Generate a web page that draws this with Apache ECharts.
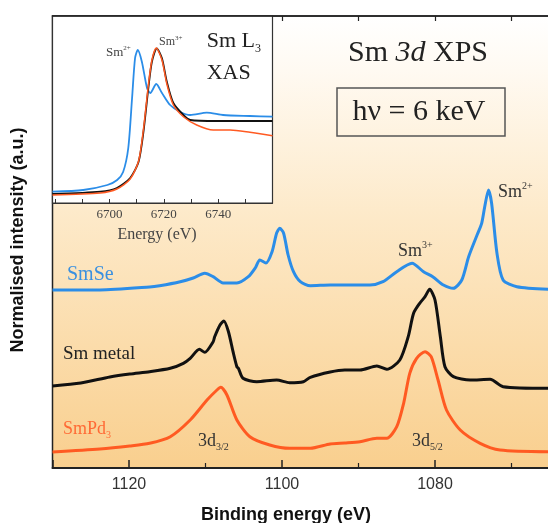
<!DOCTYPE html>
<html><head><meta charset="utf-8">
<script src="https://cdn.jsdelivr.net/npm/echarts@6/dist/echarts.min.js"></script>
<style>html,body{margin:0;padding:0;background:#fff}#c{width:548px;height:523px}</style>
</head><body><div id="c"></div><script>
// Main XPS spectra: [binding energy (eV), normalised intensity (arb.)]
const smseXps = [[1130,178],[1123.8,178],[1117.3,181],[1116.0,182.3],[1113.3,186.3],[1111.6,190],[1110.1,194.7],[1109.0,191.3],[1107.7,185],[1105.9,185],[1104.4,191.3],[1103.5,200],[1102.9,208],[1102.1,205],[1101.3,216.3],[1100.7,235],[1100.3,239.7],[1099.8,235],[1099.2,213],[1098.5,196.3],[1097.6,186.3],[1096.3,182.3],[1093.7,183],[1091.1,183],[1088.5,183],[1086.8,186.3],[1085.0,196.3],[1083.0,204.7],[1081.5,196.3],[1080.3,191.3],[1078.9,183],[1077.6,179.7],[1076.5,188],[1075.6,211.3],[1074.5,233],[1073.9,244.7],[1073.5,261.3],[1073.0,278],[1072.6,264.7],[1071.9,214.7],[1071.1,188],[1069.3,181.3],[1065.2,178.7]];
const smMetalXps = [[1130,82],[1126.3,85],[1122.5,91],[1119.9,94],[1117.3,96.3],[1114.6,99.7],[1112.9,104.7],[1112.0,109.7],[1110.8,118.7],[1110.1,115.7],[1109.0,126.3],[1108.8,131.3],[1108.1,143],[1107.6,147],[1107.0,136.3],[1106.4,116.3],[1105.9,101.3],[1105.7,99.7],[1105.1,89.7],[1103.3,86.3],[1100.7,88],[1099.0,85.3],[1097.2,86.3],[1096.3,90.7],[1093.7,96],[1091.8,98],[1089.8,98],[1087.6,102],[1086.3,98.7],[1084.6,108],[1083.5,131.3],[1082.8,154.7],[1082.0,164.7],[1081.3,171.3],[1080.7,178.7],[1080.0,168],[1079.3,131.3],[1078.7,101.3],[1077.6,91.3],[1075.4,88],[1072.8,88.7],[1071.1,81.3],[1065.2,79.7]];
const smPd3Xps = [[1130,16],[1123.8,19],[1119.9,22],[1117.3,24.7],[1114.6,31.3],[1112.0,48],[1109.8,68],[1108.5,78],[1108.0,80.7],[1107.2,73],[1105.9,48],[1104.2,31.3],[1101.6,23],[1099.0,19.7],[1096.3,19.7],[1093.7,24],[1091.8,25],[1089.8,26.3],[1087.6,29.7],[1086.3,29.7],[1085.0,41.3],[1084.1,64.7],[1083.3,94.7],[1082.4,109.7],[1081.3,116.3],[1080.5,111.3],[1079.6,88],[1078.5,58],[1076.7,38],[1074.1,24.7],[1071.5,18],[1065.2,16.3]];
// Inset XAS spectra: [photon energy (eV), intensity (arb.)]
const smseXas = [[6679,11.3],[6690.3,13],[6699.2,18],[6702.8,23],[6705.0,31],[6706.9,55],[6708.3,105],[6709.4,145],[6710.4,153],[6711.9,141.3],[6713.8,115],[6715.0,110],[6717.2,119],[6719.3,110],[6722.3,98],[6726.0,91],[6729.7,88],[6735.8,90.3],[6741.8,88],[6751.7,87],[6760,86.3]];
const smMetalXas = [[6679,9],[6696.6,11.3],[6702.7,15],[6707.6,25],[6710.7,41.3],[6712.5,71.3],[6714.3,115],[6715.6,141.3],[6717.4,154.7],[6719.3,144.7],[6721.1,121.3],[6723.5,100],[6727.2,88],[6729.7,83],[6739.5,82],[6751.7,82],[6760,82]];
const smPd3Xas = [[6679,8],[6696.6,10],[6702.7,14],[6707.6,24],[6710.7,42],[6712.5,74],[6714.3,118],[6715.6,143],[6717.2,155],[6719.3,143],[6721.1,119],[6723.5,98],[6727.2,86.3],[6732.1,78],[6738.2,73],[6744.4,73],[6751.7,70.7],[6760,67.3]];
const xpsTickLabels = [1080, 1100, 1120];
const xasTickLabels = [6700, 6720, 6740];
const xasTicks = [6680, 6690, 6700, 6710, 6720, 6730, 6740, 6750];

const BLUE = '#2b8de8', BLACK = '#111111', ORANGE = '#ff5a22';
const SERIF = '"Liberation Serif","Times New Roman",serif';
const SANS = '"Liberation Sans",Arial,sans-serif';

function sup(x, y, main, small, F, color, mode) {
  const lh = Math.round(F * 1.2);
  return {
    type: 'text', x: x, y: y, z: 100,
    style: {
      text: '{n|' + main + '}{' + (mode === 'sub' ? 'b' : 't') + '|' + small + '}',
      align: 'left', verticalAlign: 'middle', fill: color,
      rich: {
        n: { fontSize: F, fontFamily: SERIF, lineHeight: lh, fill: color },
        t: { fontSize: Math.round(F * 0.55), fontFamily: SERIF, lineHeight: Math.round(F * 0.6), verticalAlign: 'top', fill: color },
        b: { fontSize: Math.round(F * 0.55), fontFamily: SERIF, lineHeight: Math.round(F * 0.6), verticalAlign: 'bottom', fill: color }
      }
    }
  };
}
function txt(x, y, s, F, color, opts) {
  opts = opts || {};
  return {
    type: 'text', x: x, y: y, z: 100, rotation: opts.rot || 0,
    style: { text: s, fontSize: F, fontFamily: opts.family || SERIF, fontWeight: opts.weight || 'normal',
      fontStyle: opts.style || 'normal', fill: color, align: opts.align || 'left', verticalAlign: 'middle' }
  };
}

const chart = echarts.init(document.getElementById('c'), null, { renderer: 'canvas' });
const lineS = (data, color, xi, yi, w) => ({
  type: 'line', data: data, xAxisIndex: xi, yAxisIndex: yi, showSymbol: false, smooth: 0.25,
  lineStyle: { color: color, width: w }, itemStyle: { color: color }, animation: false, silent: true
});

chart.setOption({
  animation: false,
  backgroundColor: '#ffffff',
  grid: [
    { left: 52.5, top: 16, width: 535.5, height: 452, show: true, borderColor: '#222', borderWidth: 1.5,
      outerBoundsMode: 'none', containLabel: false,
      backgroundColor: new echarts.graphic.LinearGradient(0, 0, 0, 1, [
        { offset: 0, color: '#ffffff' }, { offset: 0.12, color: '#fffaf2' },
        { offset: 0.45, color: '#fde9c8' }, { offset: 1, color: '#f9cf8e' }]) },
    { left: 52.5, top: 16, width: 220, height: 187, show: true, borderColor: '#333', borderWidth: 1.2, backgroundColor: '#ffffff',
      outerBoundsMode: 'none', containLabel: false }
  ],
  xAxis: [
    { gridIndex: 0, type: 'value', inverse: true, min: 1060, max: 1130, interval: 20,
      axisLine: { show: true, lineStyle: { color: '#222', width: 1.8 } },
      axisTick: { show: true, inside: true, length: 8, lineStyle: { color: '#222', width: 1.5 } },
      minorTick: { show: true, splitNumber: 2, length: 5, lineStyle: { color: '#222', width: 1.2 } },
      axisLabel: { show: true, margin: 9, fontSize: 16, fontFamily: SANS, color: '#333',
        formatter: v => (xpsTickLabels.indexOf(v) >= 0 ? String(v) : '') },
      splitLine: { show: false }, minorSplitLine: { show: false } },
    { gridIndex: 0, type: 'value', position: 'top', inverse: true, min: 1060, max: 1130,
      axisLine: { show: true, lineStyle: { color: '#222', width: 1.5 } },
      axisTick: { show: true, inside: true, length: 5, customValues: [1070, 1080, 1090, 1100], lineStyle: { color: '#222', width: 1.2 } },
      axisLabel: { show: false }, splitLine: { show: false } },
    { gridIndex: 1, type: 'value', min: 6679, max: 6760,
      axisLine: { show: true, lineStyle: { color: '#333', width: 1.2 } },
      axisTick: { show: true, inside: true, length: 4, customValues: xasTicks, lineStyle: { color: '#333' } },
      axisLabel: { show: true, customValues: xasTickLabels, margin: 5, fontSize: 13, fontFamily: SERIF, color: '#444',
        formatter: v => String(v) },
      splitLine: { show: false } }
  ],
  yAxis: [
    { gridIndex: 0, type: 'value', min: 0, max: 452, show: false },
    { gridIndex: 1, type: 'value', min: 0, max: 187, show: false }
  ],
  series: [
    lineS(smseXps, BLUE, 0, 0, 3),
    lineS(smMetalXps, BLACK, 0, 0, 3),
    lineS(smPd3Xps, ORANGE, 0, 0, 3),
    lineS(smseXas, BLUE, 2, 1, 1.8),
    lineS(smMetalXas, BLACK, 2, 1, 1.8),
    lineS(smPd3Xas, ORANGE, 2, 1, 1.5)
  ],
  graphic: [
    txt(18, 240, 'Normalised intensity (a.u.)', 18, '#111', { family: SANS, weight: 'bold', rot: Math.PI / 2, align: 'center' }),
    txt(286, 515, 'Binding energy (eV)', 18, '#111', { family: SANS, weight: 'bold', align: 'center' }),
    txt(157, 235, 'Energy (eV)', 16, '#444', { align: 'center' }),
    {
      type: 'text', x: 418, y: 53, z: 100,
      style: { text: '{r|Sm }{i|3d}{r| XPS}', align: 'center', verticalAlign: 'middle',
        rich: { r: { fontSize: 30, fontFamily: SERIF, fill: '#222' }, i: { fontSize: 30, fontFamily: SERIF, fontStyle: 'italic', fill: '#222' } } }
    },
    { type: 'rect', z: 100, shape: { x: 337, y: 88, width: 168, height: 48 }, style: { fill: 'none', stroke: '#555', lineWidth: 1.5 } },
    txt(419, 112, 'hν = 6 keV', 30, '#222', { align: 'center' }),
    sup(206.7, 41.7, 'Sm L', '3', 22, '#222', 'sub'),
    txt(206.7, 73.4, 'XAS', 22, '#222'),
    sup(106, 52.8, 'Sm', '2+', 13, '#444', 'sup'),
    sup(159, 41.4, 'Sm', '3+', 12, '#444', 'sup'),
    sup(498, 192.6, 'Sm', '2+', 18, '#333', 'sup'),
    sup(398, 251.6, 'Sm', '3+', 18, '#333', 'sup'),
    txt(67, 275, 'SmSe', 20, '#3a90e0'),
    txt(63, 354.3, 'Sm metal', 19, '#222'),
    sup(63, 429.5, 'SmPd', '3', 18, '#ff6a35', 'sub'),
    sup(198, 441.3, '3d', '3/2', 18, '#333', 'sub'),
    sup(412, 441.3, '3d', '5/2', 18, '#333', 'sub')
  ]
});
</script></body></html>
